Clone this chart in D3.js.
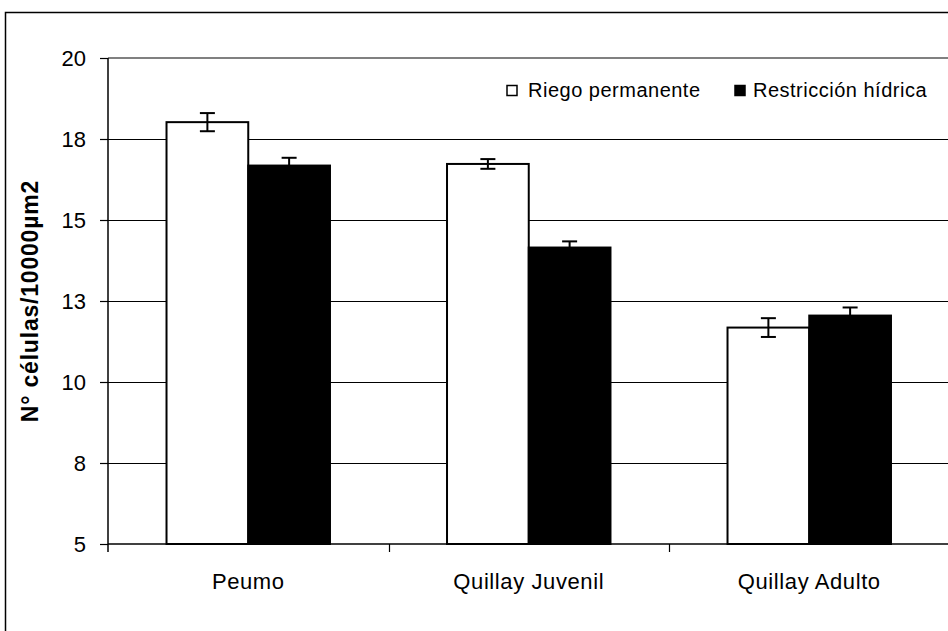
<!DOCTYPE html>
<html>
<head>
<meta charset="utf-8">
<script src="https://cdn.jsdelivr.net/npm/d3@7"></script>
<style>
  html, body { margin: 0; padding: 0; background: #fff; }
  svg { display: block; }
  text { font-family: "Liberation Sans", Arial, sans-serif; fill: #000; }
</style>
</head>
<body>
<svg id="chart" width="948" height="631"></svg>
<script>
// Cell density per treatment and species
const categories = ["Peumo", "Quillay Juvenil", "Quillay Adulto"];
const seriesNames = ["Riego permanente", "Restricción hídrica"];
const riegoValues = [18.02, 16.73, 11.68];
const riegoErrors = [0.28, 0.15, 0.29];
const restriccionValues = [16.68, 14.15, 12.05];
const restriccionErrors = [0.24, 0.19, 0.25];
const tickValues = [5, 7.5, 10, 12.5, 15, 17.5, 20];
const tickLabels = ["5", "8", "10", "13", "15", "18", "20"];
const yTitle = "N° células/10000µm2";

const seriesValues = [riegoValues, restriccionValues];
const seriesErrors = [riegoErrors, restriccionErrors];
const seriesFill = ["#ffffff", "#000000"];

const svg = d3.select("#chart");
const W = 948, H = 631;
const plot = { left: 108, right: 949.5, top: 58, bottom: 544 };

// Outer chart frame (runs past the right and bottom edges)
svg.append("rect")
  .attr("x", 5.5).attr("y", 12.5)
  .attr("width", W + 20).attr("height", H + 20)
  .attr("fill", "#fff").attr("stroke", "#000").attr("stroke-width", 1.5);

const y = d3.scaleLinear().domain([5, 20]).range([plot.bottom, plot.top]);
const x0 = d3.scaleBand().domain(categories).range([plot.left, plot.right])
  .paddingInner(0).paddingOuter(0);
const x1 = d3.scaleBand().domain(seriesNames).range([0, x0.bandwidth()])
  .paddingInner(0).paddingOuter(0.716);

// Horizontal gridlines
svg.append("g").selectAll("line")
  .data(tickValues.filter(v => v > 5 && v < 20))
  .join("line")
  .attr("x1", plot.left).attr("x2", W)
  .attr("y1", d => Math.round(y(d)) + 0.5).attr("y2", d => Math.round(y(d)) + 0.5)
  .attr("stroke", "#000").attr("stroke-width", 1);

// Plot area top border
svg.append("line")
  .attr("x1", plot.left).attr("x2", W)
  .attr("y1", y(20)).attr("y2", y(20))
  .attr("stroke", "#808080").attr("stroke-width", 2);

// Bars
const groups = svg.append("g").selectAll("g")
  .data(categories)
  .join("g")
  .attr("transform", d => `translate(${x0(d)},0)`);

seriesNames.forEach((s, si) => {
  groups.append("rect")
    .attr("x", x1(s))
    .attr("y", (d, i) => y(seriesValues[si][i]))
    .attr("width", x1.bandwidth())
    .attr("height", (d, i) => y(5) - y(seriesValues[si][i]))
    .attr("fill", seriesFill[si])
    .attr("stroke", "#000").attr("stroke-width", 2);
});

// Error bars
const capHalf = 7.5;
seriesNames.forEach((s, si) => {
  const cx = x1(s) + x1.bandwidth() / 2;
  const eb = groups.append("g").attr("stroke", "#000").attr("stroke-width", 2);
  eb.append("line")
    .attr("x1", cx).attr("x2", cx)
    .attr("y1", (d, i) => y(seriesValues[si][i] + seriesErrors[si][i]))
    .attr("y2", (d, i) => y(seriesValues[si][i] - seriesErrors[si][i]));
  [1, -1].forEach(sign => {
    eb.append("line")
      .attr("x1", cx - capHalf).attr("x2", cx + capHalf)
      .attr("y1", (d, i) => y(seriesValues[si][i] + sign * seriesErrors[si][i]))
      .attr("y2", (d, i) => y(seriesValues[si][i] + sign * seriesErrors[si][i]));
  });
});

// Y axis
const yAxis = d3.axisLeft(y)
  .tickValues(tickValues)
  .tickFormat((d, i) => tickLabels[i])
  .tickSize(8).tickPadding(14);
const gy = svg.append("g").attr("transform", `translate(${plot.left},0)`).call(yAxis);
gy.select(".domain").attr("stroke", "#000").attr("stroke-width", 1.5)
  .attr("d", `M0,${plot.top}V${plot.bottom + 8}`);
gy.selectAll(".tick line").attr("stroke", "#000").attr("stroke-width", 1.2);
gy.selectAll(".tick text")
  .style("font-family", "'Liberation Sans', Arial, sans-serif")
  .style("font-size", "22px").attr("fill", "#000");

// X axis
const xAxis = d3.axisBottom(x0).tickSize(0).tickPadding(29);
const gx = svg.append("g").attr("transform", `translate(0,${plot.bottom})`).call(xAxis);
gx.select(".domain").attr("stroke", "#000").attr("stroke-width", 1.5)
  .attr("d", `M${plot.left},0H${W}`);
gx.selectAll(".tick text")
  .style("font-family", "'Liberation Sans', Arial, sans-serif")
  .style("font-size", "22px").style("letter-spacing", "0.6px").attr("fill", "#000");
// Category separators
svg.append("g").selectAll("line")
  .data(categories.slice(1))
  .join("line")
  .attr("x1", d => Math.round(x0(d)) + 0.5).attr("x2", d => Math.round(x0(d)) + 0.5)
  .attr("y1", plot.bottom).attr("y2", plot.bottom + 8)
  .attr("stroke", "#000").attr("stroke-width", 1.2);

// Y axis title
svg.append("text")
  .attr("transform", `translate(38,${(plot.top + plot.bottom) / 2}) rotate(-90)`)
  .attr("text-anchor", "middle")
  .style("font-size", "23px").style("font-weight", "bold").style("letter-spacing", "0.8px")
  .text(yTitle);

// Legend
const legendItems = [
  { name: seriesNames[0], fill: seriesFill[0], sx: 507, tx: 528 },
  { name: seriesNames[1], fill: seriesFill[1], sx: 735, tx: 753 }
];
const lg = svg.append("g");
legendItems.forEach(it => {
  lg.append("rect")
    .attr("x", it.sx).attr("y", 85.5).attr("width", 10).attr("height", 10)
    .attr("fill", it.fill).attr("stroke", "#000").attr("stroke-width", 1.5);
  lg.append("text")
    .attr("x", it.tx).attr("y", 97)
    .style("font-size", "20px").style("letter-spacing", "0.5px")
    .text(it.name);
});
</script>
</body>
</html>
